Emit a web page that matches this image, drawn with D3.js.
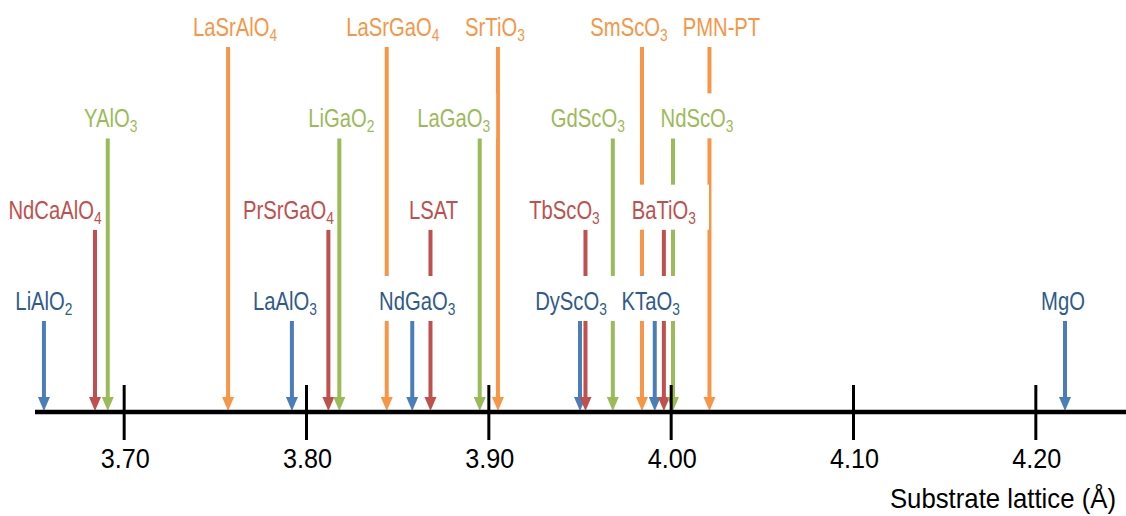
<!doctype html>
<html>
<head>
<script src="https://cdnjs.cloudflare.com/ajax/libs/d3/7.8.5/d3.min.js"></script>
<style>
  body { margin: 0; background: #fff; }
  svg { display: block; }
  .lbl { font-family: "Liberation Sans", Arial, sans-serif; font-size: 25px; }
  .axis text { font-family: "Liberation Sans", Arial, sans-serif; font-size: 28px; fill: #000; }
</style>
</head>
<body>
<svg id="chart" width="1126" height="516"></svg>
<script>
// substrates, lattice parameter (Å) and which row / colour they belong to
var names   = ["LiAlO2", "NdCaAlO4", "YAlO3", "LaSrAlO4", "LaAlO3", "PrSrGaO4", "LiGaO2", "LaSrGaO4",
               "NdGaO3", "LSAT", "LaGaO3", "SrTiO3", "DyScO3", "TbScO3", "GdScO3", "SmScO3",
               "KTaO3", "BaTiO3", "NdScO3", "PMN-PT", "MgO"];
var lattice = [3.656, 3.684, 3.691, 3.757, 3.792, 3.812, 3.818, 3.844,
               3.858, 3.868, 3.895, 3.905, 3.950, 3.953, 3.968, 3.984,
               3.991, 3.996, 4.001, 4.021, 4.216];
var row     = [1, 2, 3, 4, 1, 2, 3, 4,
               1, 2, 3, 4, 1, 2, 3, 4,
               1, 2, 3, 4, 1];
var tickVals = [3.70, 3.80, 3.90, 4.00, 4.10, 4.20];
var axisTitle = "Substrate lattice (Å)";

// label shift from its arrow, px
var labelDx = {"NdCaAlO4": -40, "YAlO3": 3, "LaSrAlO4": 7, "LaAlO3": -7, "PrSrGaO4": -40, "LiGaO2": 2,
               "LaSrGaO4": 6, "NdGaO3": 5, "LSAT": 3, "LaGaO3": -26, "SrTiO3": -3, "DyScO3": -9,
               "TbScO3": -21, "GdScO3": -25, "SmScO3": -13, "KTaO3": -4, "NdScO3": 24, "PMN-PT": 12,
               "MgO": -2};
// text boxes whose right margin differs from the default
var padRight = {"BaTiO3": 13, "DyScO3": 10, "NdCaAlO4": 1, "PrSrGaO4": 1};

var arrowColor = {1: "#4a7ebb", 2: "#c0504d", 3: "#9bbb59", 4: "#f79646"};
var textColor  = {1: "#2f5b8c", 2: "#c0504d", 3: "#9bbb59", 4: "#f79646"};
var narrow = 0.81;   // labels are a condensed face in the original
var pad = 6;

var data = names.map(function(n, i) { return {name: n, a: lattice[i], row: row[i]}; });

var svg = d3.select("#chart");
var axisY = 412;

var x = d3.scaleLinear().domain([3.65, 4.25]).range([33, 1127]);
var y = d3.scalePoint().domain([4, 3, 2, 1]).range([47, 321]);

// arrows
var arrows = svg.append("g");
arrows.selectAll("line").data(data).enter().append("line")
  .attr("x1", d => x(d.a)).attr("x2", d => x(d.a))
  .attr("y1", d => y(d.row)).attr("y2", axisY - 12)
  .attr("stroke", d => arrowColor[d.row]).attr("stroke-width", 4);
arrows.selectAll("path").data(data).enter().append("path")
  .attr("d", d => "M" + (x(d.a) - 6) + "," + (axisY - 15) + "L" + (x(d.a) + 6) + "," + (axisY - 15) +
                  "L" + x(d.a) + "," + (axisY - 1) + "Z")
  .attr("fill", d => arrowColor[d.row]);

// axis
var axis = svg.append("g").attr("class", "axis");
axis.append("line").attr("x1", 35).attr("x2", 1126).attr("y1", axisY).attr("y2", axisY)
  .attr("stroke", "#000").attr("stroke-width", 4.5);
axis.selectAll("line.tick").data(tickVals).enter().append("line").attr("class", "tick")
  .attr("x1", d => x(d)).attr("x2", d => x(d)).attr("y1", axisY - 27).attr("y2", axisY + 28)
  .attr("stroke", "#000").attr("stroke-width", 3);
axis.selectAll("text.tl").data(tickVals).enter().append("text").attr("class", "tl")
  .attr("transform", d => "translate(" + (x(d) + 1) + ",468) scale(0.9,1)")
  .attr("text-anchor", "middle")
  .text(d3.format(".2f"));
axis.append("text").attr("transform", "translate(1116,508) scale(0.92,1)")
  .attr("text-anchor", "end").text(axisTitle);

// labels with white boxes that mask the lines behind them
var labels = svg.append("g");
var lg = labels.selectAll("g").data(data).enter().append("g");
lg.append("rect").attr("fill", "#fff");
var tg = lg.append("g")
  .attr("transform", d => "translate(" + (x(d.a) + (labelDx[d.name] || 0)) + "," + (y(d.row) - 11) +
                          ") scale(" + narrow + ",1)");
var txt = tg.append("text").attr("class", "lbl")
  .attr("text-anchor", "middle")
  .attr("fill", d => textColor[d.row]);
txt.each(function(d) {
  var m = d.name.match(/^(.*?)(\d)$/);
  var t = d3.select(this);
  if (m) {
    t.append("tspan").text(m[1]);
    t.append("tspan").attr("font-size", "17px").attr("dy", 5).text(m[2]);
  } else {
    t.text(d.name);
  }
});
txt.each(function(d) {
  var w = this.getComputedTextLength() * narrow;
  var cx = x(d.a) + (labelDx[d.name] || 0);
  var pr = d.name in padRight ? padRight[d.name] : pad;
  d3.select(this.parentNode.parentNode).select("rect")
    .attr("x", cx - w / 2 - pad).attr("width", w + pad + pr)
    .attr("y", y(d.row) - 45).attr("height", 45);
});
</script>
</body>
</html>
